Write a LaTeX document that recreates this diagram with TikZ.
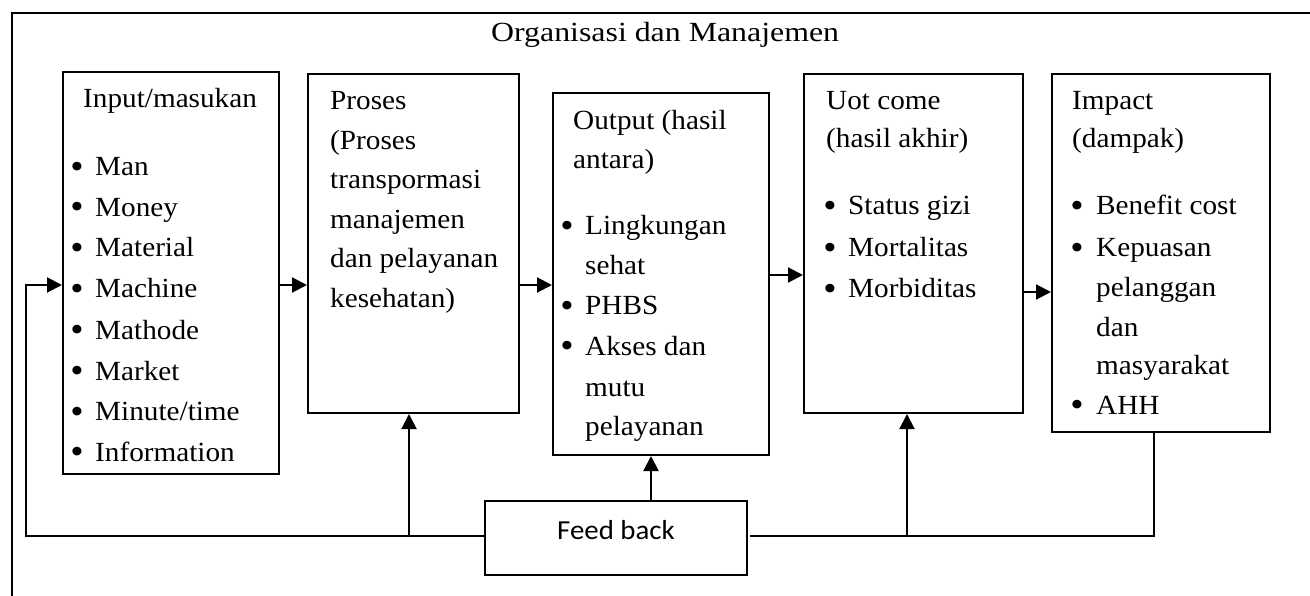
\documentclass[tikz,border=0pt]{standalone}
\usepackage{fontspec}
\setmainfont{Liberation Serif}[FakeStretch=1.055]
\newfontfamily\titlefont{Liberation Serif}[FakeStretch=1.15]
\newfontfamily\fbfont{Carlito}[FakeStretch=1.05]
\usetikzlibrary{arrows.meta}
\newcommand\bulletmark{\raisebox{-2.5pt}{\fontsize{36}{36}\selectfont •}}
\begin{document}
\begin{tikzpicture}[x=1pt,y=-1pt,
  box/.style={draw, line width=2pt, rectangle, anchor=north west, inner sep=0pt},
  conn/.style={line width=2pt},
  arr/.style={conn, -{Triangle[length=15pt,width=15pt]}},
  txt/.style={anchor=base west, inner sep=0pt, font=\fontsize{27.7}{30}\selectfont},
  bul/.style={anchor=base, inner sep=0pt}]
\useasboundingbox (0,0) rectangle (1310,596);
% outer frame
\draw[line width=2pt] (11.5,600) -- (11.5,13) -- (1312,13);
\node[anchor=base west, inner sep=0pt, font=\titlefont\fontsize{27.7}{30}\selectfont] (title) at (491,42) {Organisasi dan Manajemen};
% boxes
\node[box, minimum width=216pt, minimum height=402pt] (in)  at (62,71) {};
\node[box, minimum width=211pt, minimum height=339pt] (pr)  at (307,73) {};
\node[box, minimum width=216pt, minimum height=362pt] (out) at (552,92) {};
\node[box, minimum width=219pt, minimum height=339pt] (uot) at (803,73) {};
\node[box, minimum width=218pt, minimum height=358pt] (imp) at (1051,73) {};
\node[box, minimum width=262pt, minimum height=74pt]  (fb)  at (484,500) {};
\node[anchor=base west, inner sep=0pt, font=\fbfont\fontsize{27.5}{30}\selectfont] (fbt) at (557,539) {Feed back};
% input text
\node[txt] (in-h) at (83,108) {Input/masukan};
\node[bul] (in-b1) at (77,176) {\bulletmark};   \node[txt] (in-1) at (95,176) {Man};
\node[bul] (in-b2) at (77,216.5) {\bulletmark}; \node[txt] (in-2) at (95,216.5) {Money};
\node[bul] (in-b3) at (77,257) {\bulletmark};   \node[txt] (in-3) at (95,257) {Material};
\node[bul] (in-b4) at (77,298) {\bulletmark};   \node[txt] (in-4) at (95,298) {Machine};
\node[bul] (in-b5) at (77,339) {\bulletmark};   \node[txt] (in-5) at (95,339) {Mathode};
\node[bul] (in-b6) at (77,380) {\bulletmark};   \node[txt] (in-6) at (95,380) {Market};
\node[bul] (in-b7) at (77,420.5) {\bulletmark}; \node[txt] (in-7) at (95,420.5) {Minute/time};
\node[bul] (in-b8) at (77,461) {\bulletmark};   \node[txt] (in-8) at (95,461) {Information};
% proses text
\node[txt] (pr-1) at (330,110) {Proses};
\node[txt] (pr-2) at (330,149.5) {(Proses};
\node[txt] (pr-3) at (330,189) {transpormasi};
\node[txt] (pr-4) at (330,228.5) {manajemen};
\node[txt] (pr-5) at (330,268) {dan pelayanan};
\node[txt] (pr-6) at (330,307.5) {kesehatan)};
% output text
\node[txt] (out-h1) at (573,130) {Output (hasil};
\node[txt] (out-h2) at (573,169) {antara)};
\node[bul] (out-b1) at (567,235) {\bulletmark}; \node[txt] (out-1) at (585,235) {Lingkungan};
\node[txt] (out-2) at (585,275) {sehat};
\node[bul] (out-b3) at (567,315) {\bulletmark}; \node[txt] (out-3) at (585,315) {PHBS};
\node[bul] (out-b4) at (567,355) {\bulletmark}; \node[txt] (out-4) at (585,355) {Akses dan};
\node[txt] (out-5) at (585,396) {mutu};
\node[txt] (out-6) at (585,435) {pelayanan};
% outcome text
\node[txt] (uot-h1) at (826,110) {Uot come};
\node[txt] (uot-h2) at (826,148) {(hasil akhir)};
\node[bul] (uot-b1) at (830,215) {\bulletmark}; \node[txt] (uot-1) at (848,215) {Status gizi};
\node[bul] (uot-b2) at (830,257) {\bulletmark}; \node[txt] (uot-2) at (848,257) {Mortalitas};
\node[bul] (uot-b3) at (830,298) {\bulletmark}; \node[txt] (uot-3) at (848,298) {Morbiditas};
% impact text
\node[txt] (imp-h1) at (1072,110) {Impact};
\node[txt] (imp-h2) at (1072,148) {(dampak)};
\node[bul] (imp-b1) at (1077,215) {\bulletmark}; \node[txt] (imp-1) at (1096,215) {Benefit cost};
\node[bul] (imp-b2) at (1077,257) {\bulletmark}; \node[txt] (imp-2) at (1096,257) {Kepuasan};
\node[txt] (imp-3) at (1096,297) {pelanggan};
\node[txt] (imp-4) at (1096,336) {dan};
\node[txt] (imp-5) at (1096,374) {masyarakat};
\node[bul] (imp-b6) at (1077,414) {\bulletmark}; \node[txt] (imp-6) at (1096,414) {AHH};
% connectors
\coordinate (ya) at (0,285);
\coordinate (yb) at (0,275);
\coordinate (yc) at (0,292);
\draw[arr] (in.east |- ya) -- (pr.west |- ya);
\draw[arr] (pr.east |- ya) -- (out.west |- ya);
\draw[arr] (out.east |- yb) -- (uot.west |- yb);
\draw[arr] (uot.east |- yc) -- (imp.west |- yc);
\coordinate (fbl) at (26,536);
\draw[arr] (fb.west |- fbl) -- (fbl) -- (fbl |- ya) -- (in.west |- ya);
\coordinate (xp) at (409,0);
\draw[arr] (xp |- fbl) -- (xp |- pr.south);
\coordinate (xo) at (651,0);
\draw[arr] (fb.north -| xo) -- (out.south -| xo);
\coordinate (fbr) at (1154,536);
\coordinate (fbe) at (750,536);
\draw[conn] (imp.south -| fbr) -- (fbr) -- (fbe);
\coordinate (xu) at (907,0);
\draw[arr] (xu |- fbr) -- (xu |- uot.south);
\end{tikzpicture}
\end{document}
